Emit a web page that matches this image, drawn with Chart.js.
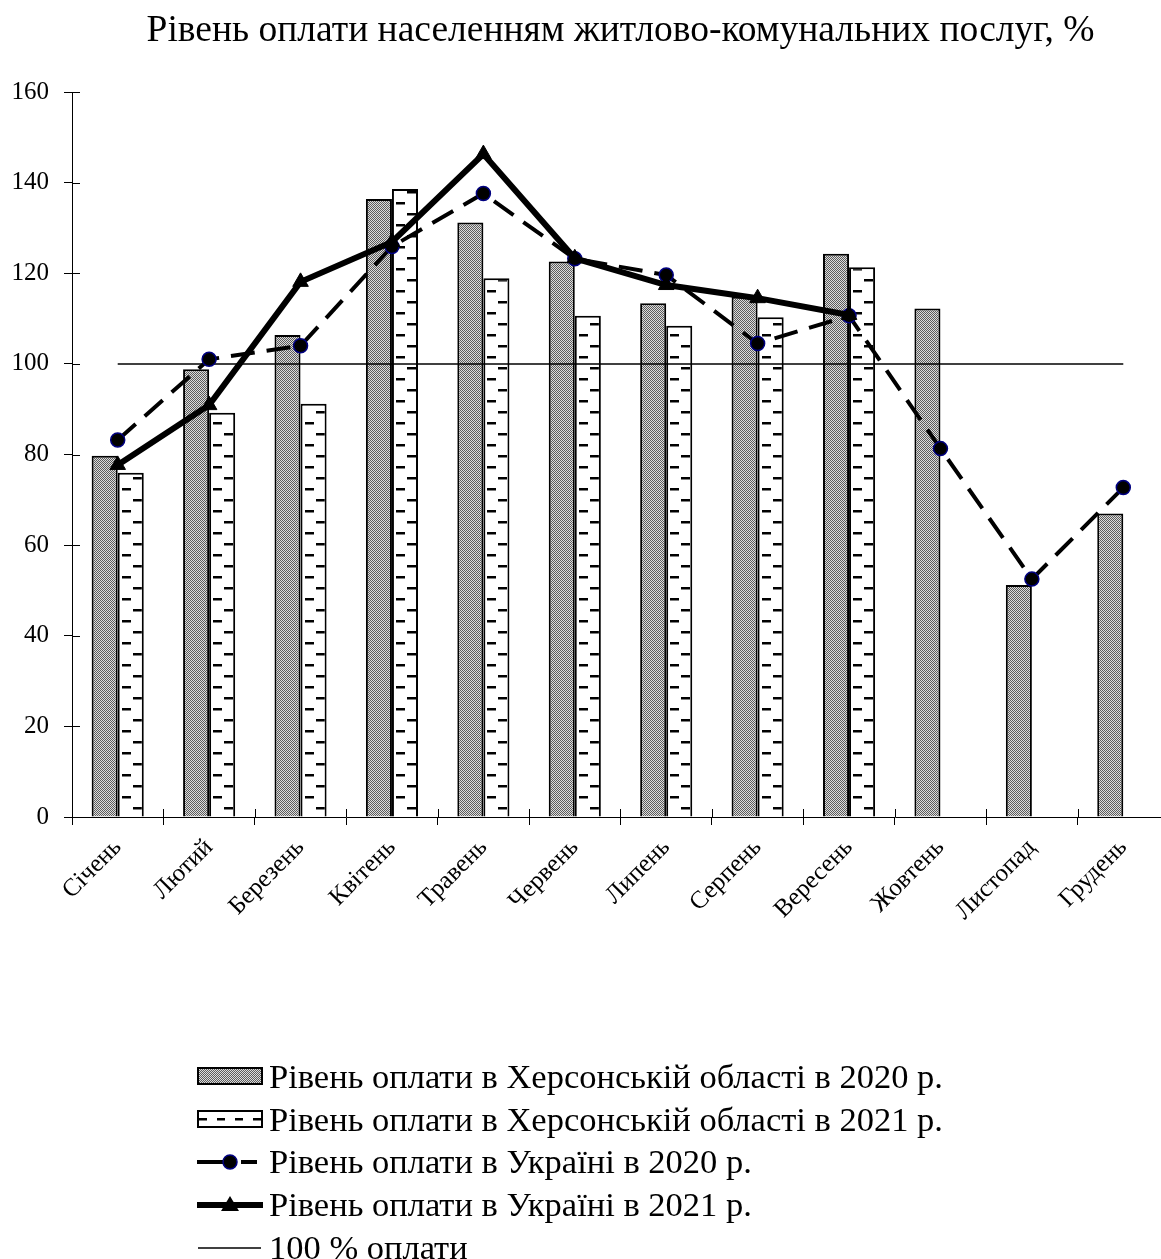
<!DOCTYPE html>
<html>
<head>
<meta charset="utf-8">
<script src="https://cdn.jsdelivr.net/npm/chart.js@4.4.1/dist/chart.umd.min.js"></script>
<style>
  body { margin: 0; background: #fff; width: 1161px; height: 1259px; overflow: hidden; position: relative;
         font-family: "Liberation Serif", "Times New Roman", serif; }
  #chart { position: absolute; left: 0; top: 0; }
  #legend { position: absolute; left: 195px; top: 1055px; }
  .item { height: 42.8px; display: flex; align-items: center; font-size: 34.5px; color: #000; white-space: nowrap; }
  .item canvas { margin-right: 4px; }
</style>
</head>
<body>
<canvas id="chart" width="1179" height="960"></canvas>
<div id="legend"></div>
<script>
const months = ['Січень', 'Лютий', 'Березень', 'Квітень', 'Травень', 'Червень',
                'Липень', 'Серпень', 'Вересень', 'Жовтень', 'Листопад', 'Грудень'];
const kherson2020 = [79.7, 98.8, 106.4, 136.4, 131.2, 122.6, 113.4, 114.8, 124.3, 112.2, 51.2, 67.0];
const kherson2021 = [76.0, 89.2, 91.2, 138.6, 118.9, 110.6, 108.4, 110.3, 121.3, null, null, null];
const ukraine2020 = [83.2, 101.0, 104.0, 125.9, 137.6, 123.2, 119.6, 104.5, 110.6, 81.3, 52.5, 72.7];
const ukraine2021 = [77.7, 90.9, 118.1, 126.9, 146.3, 123.3, 117.4, 114.5, 110.8, null, null, null];
const fullPayment = [100, 100, 100, 100, 100, 100, 100, 100, 100, 100, 100, 100];
const yMin = 0, yMax = 160, yStep = 20;

const labels = [
  'Рівень оплати в Херсонській області в 2020 р.',
  'Рівень оплати в Херсонській області в 2021 р.',
  'Рівень оплати в Україні в 2020 р.',
  'Рівень оплати в Україні в 2021 р.',
  '100 % оплати'
];
const FONT = '"Liberation Serif", "Times New Roman", serif';

/* ---------- patterns ---------- */
function dotTile() {
  const c = document.createElement('canvas');
  c.width = 2; c.height = 2;
  const g = c.getContext('2d');
  g.fillStyle = '#dcdcdc'; g.fillRect(0, 0, 2, 2);
  g.fillStyle = '#5c5c5c'; g.fillRect(0, 0, 1, 1); g.fillRect(1, 1, 1, 1);
  return c;
}
function dashTile() {
  const c = document.createElement('canvas');
  c.width = 26; c.height = 22;
  const g = c.getContext('2d');
  g.fillStyle = '#fff'; g.fillRect(0, 0, 26, 22);
  g.fillStyle = '#000';
  g.fillRect(4, 4, 9, 2.5);
  g.fillRect(15, 15, 9, 2.5);
  return c;
}
const ctx = document.getElementById('chart').getContext('2d');
const dotPattern = ctx.createPattern(dotTile(), 'repeat');
const dashCanvas = dashTile();

function dashFill(c) {
  const chart = c.chart;
  if (!chart.chartArea || !chart.scales.x) return '#fff';
  const p = chart.ctx.createPattern(dashCanvas, 'repeat');
  const cx = Math.round(chart.scales.x.getPixelForValue(c.dataIndex));
  p.setTransform(new DOMMatrix([1, 0, 0, 1, cx, 0]));
  return p;
}

// short tick marks on the inner side of the axes too (they cross the axis line)
const crossTicks = {
  id: 'crossTicks',
  afterDraw(chart) {
    const { ctx, scales: { x, y }, chartArea } = chart;
    ctx.save();
    ctx.strokeStyle = '#000';
    ctx.lineWidth = 1;
    ctx.beginPath();
    y.ticks.forEach((t, i) => {
      const py = Math.round(y.getPixelForTick(i)) + 0.5;
      ctx.moveTo(chartArea.left, py);
      ctx.lineTo(chartArea.left + 8, py);
    });
    const half = (x.getPixelForValue(1) - x.getPixelForValue(0)) / 2;
    for (let i = 1; i <= months.length; i++) {
      const px = Math.round(x.getPixelForValue(i) - half) + 0.5;
      ctx.moveTo(px, chartArea.bottom);
      ctx.lineTo(px, chartArea.bottom - 8);
    }
    ctx.stroke();
    ctx.restore();
  }
};

/* ---------- chart ---------- */
new Chart(ctx, {
  type: 'bar',
  data: {
    labels: months,
    datasets: [
      {
        type: 'line', label: labels[2], data: ukraine2020, order: 1,
        borderColor: '#000', borderWidth: 4, borderDash: [24, 12],
        pointStyle: 'circle', pointRadius: 7, pointBackgroundColor: '#000',
        pointBorderColor: '#000080', pointBorderWidth: 1.5, tension: 0
      },
      {
        type: 'line', label: labels[3], data: ukraine2021, order: 0,
        borderColor: '#000', borderWidth: 6,
        pointStyle: 'triangle', pointRadius: 9, pointBackgroundColor: '#000',
        pointBorderColor: '#000', pointBorderWidth: 1, tension: 0
      },
      {
        type: 'line', label: labels[4], data: fullPayment, order: 2,
        borderColor: '#000', borderWidth: 1.5, pointRadius: 0
      },
      {
        label: labels[0], data: kherson2020, order: 3,
        backgroundColor: dotPattern, borderColor: '#000', borderWidth: 2,
        categoryPercentage: 0.57, barPercentage: 1
      },
      {
        label: labels[1], data: kherson2021, order: 3,
        backgroundColor: dashFill, borderColor: '#000', borderWidth: 2,
        categoryPercentage: 0.57, barPercentage: 1
      }
    ]
  },
  options: {
    responsive: false,
    animation: false,
    layout: { padding: 0 },
    plugins: {
      legend: { display: false },
      tooltip: { enabled: false },
      title: {
        display: true, fullSize: false,
        text: 'Рівень оплати населенням житлово-комунальних послуг, %',
        color: '#000', font: { family: FONT, size: 37.5, weight: 'normal' },
        padding: { top: 9, bottom: 38 }
      }
    },
    scales: {
      x: {
        offset: true,
        grid: { offset: true, drawOnChartArea: false, tickLength: 8, color: '#000', lineWidth: 1 },
        border: { color: '#000', width: 1 },
        ticks: { color: '#000', font: { family: FONT, size: 25 }, minRotation: 45, maxRotation: 45, autoSkip: false, padding: 8 },
        afterFit(s) { s.height = 143; s.paddingLeft = 0; s.paddingRight = 0; }
      },
      y: {
        min: yMin, max: yMax,
        grid: { drawOnChartArea: false, tickLength: 8, color: '#000', lineWidth: 1 },
        border: { color: '#000', width: 1 },
        ticks: { stepSize: yStep, color: '#000', font: { family: FONT, size: 25 }, padding: 15 },
        afterFit(s) { s.width = 72; }
      }
    }
  },
  plugins: [crossTicks]
});

/* ---------- legend ---------- */
const swatches = [
  g => { g.fillStyle = dotPattern; g.fillRect(3, 4, 64, 16); g.lineWidth = 2; g.strokeStyle = '#000'; g.strokeRect(3, 4, 64, 16); },
  g => {
    g.fillStyle = '#fff'; g.fillRect(3, 4, 64, 16); g.lineWidth = 2; g.strokeStyle = '#000'; g.strokeRect(3, 4, 64, 16);
    g.fillStyle = '#000'; [4, 22, 40, 58].forEach(x => g.fillRect(x, 11, 8, 2.5));
  },
  g => {
    g.strokeStyle = '#000'; g.lineWidth = 4;
    g.beginPath(); g.moveTo(2, 12); g.lineTo(28, 12); g.moveTo(46, 12); g.lineTo(62, 12); g.stroke();
    g.beginPath(); g.arc(35, 12, 7, 0, Math.PI * 2); g.fillStyle = '#000'; g.fill();
    g.lineWidth = 1.5; g.strokeStyle = '#000080'; g.stroke();
  },
  g => {
    g.strokeStyle = '#000'; g.lineWidth = 6;
    g.beginPath(); g.moveTo(2, 12); g.lineTo(68, 12); g.stroke();
    g.fillStyle = '#000'; g.beginPath(); g.moveTo(35, 3); g.lineTo(44, 18); g.lineTo(26, 18); g.closePath(); g.fill();
  },
  g => { g.strokeStyle = '#000'; g.lineWidth = 1.5; g.beginPath(); g.moveTo(3, 12); g.lineTo(66, 12); g.stroke(); }
];
const legend = document.getElementById('legend');
labels.forEach((text, i) => {
  const row = document.createElement('div');
  row.className = 'item';
  const sw = document.createElement('canvas');
  sw.width = 70; sw.height = 24;
  swatches[i](sw.getContext('2d'));
  const span = document.createElement('span');
  span.textContent = text;
  row.appendChild(sw);
  row.appendChild(span);
  legend.appendChild(row);
});
</script>
</body>
</html>
